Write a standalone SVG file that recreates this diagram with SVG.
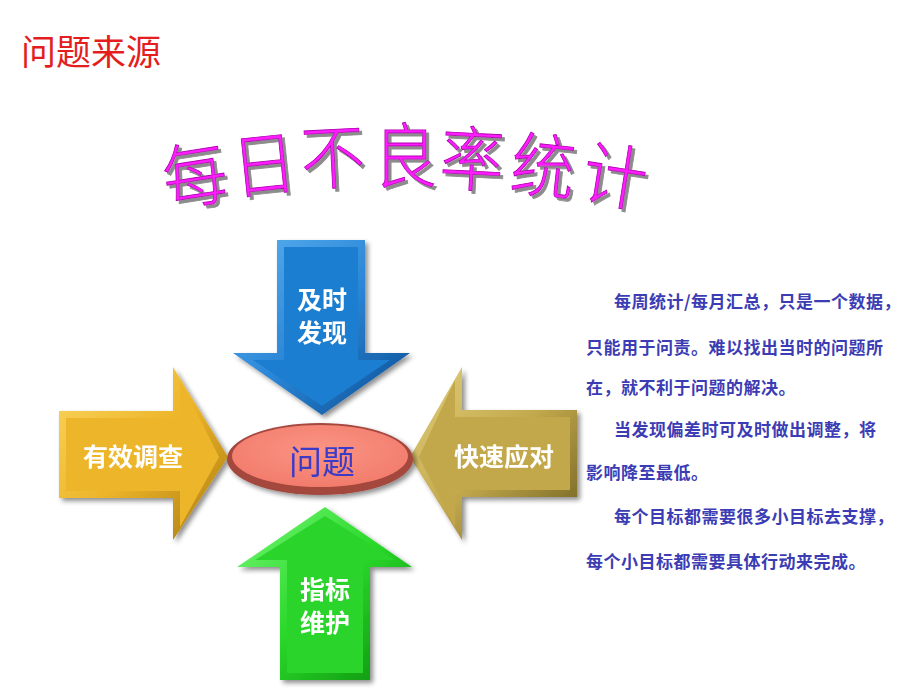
<svg xmlns="http://www.w3.org/2000/svg" width="920" height="690" viewBox="0 0 920 690">
  <defs>
    <filter id="shadow" x="-20%" y="-20%" width="140%" height="140%">
      <feGaussianBlur in="SourceAlpha" stdDeviation="2.5"/>
      <feOffset dx="3" dy="3" result="b"/>
      <feComponentTransfer><feFuncA type="linear" slope="0.45"/></feComponentTransfer>
      <feMerge><feMergeNode/><feMergeNode in="SourceGraphic"/></feMerge>
    </filter>
    <filter id="waShadow" x="-20%" y="-20%" width="140%" height="140%">
      <feOffset in="SourceAlpha" dx="3" dy="3" result="o"/>
      <feFlood flood-color="#8C8C8C"/>
      <feComposite in2="o" operator="in"/>
      <feMerge><feMergeNode/><feMergeNode in="SourceGraphic"/></feMerge>
    </filter>
    <linearGradient id="gBlue" x1="0" y1="0" x2="1" y2="1">
      <stop offset="0" stop-color="#5AB0F0"/><stop offset="0.5" stop-color="#2A86D6"/><stop offset="1" stop-color="#0A4A90"/>
    </linearGradient>
    <linearGradient id="gYellow" x1="0" y1="0" x2="1" y2="1">
      <stop offset="0" stop-color="#FAD660"/><stop offset="0.5" stop-color="#EDB52A"/><stop offset="1" stop-color="#A87A10"/>
    </linearGradient>
    <linearGradient id="gOlive" x1="0" y1="0" x2="1" y2="1">
      <stop offset="0" stop-color="#E0CE7C"/><stop offset="0.5" stop-color="#C4AA4E"/><stop offset="1" stop-color="#6E5E20"/>
    </linearGradient>
    <linearGradient id="gGreen" x1="0" y1="0" x2="1" y2="1">
      <stop offset="0" stop-color="#78F878"/><stop offset="0.5" stop-color="#2AD82A"/><stop offset="1" stop-color="#0C8C0C"/>
    </linearGradient>
    <radialGradient id="gEll" cx="0.5" cy="0.4" r="0.6">
      <stop offset="0" stop-color="#FA9484"/><stop offset="1" stop-color="#F27C6C"/>
    </radialGradient>
  </defs>
  <style>
    .title { font-family: "Liberation Sans", "Noto Sans CJK SC", sans-serif; font-size: 35px; fill: #E41E1E; }
    .wa { font-family: "Noto Sans CJK SC", sans-serif; font-size: 64px; font-weight: 300; text-anchor: middle; fill: #FF1EFF; stroke: #B000B0; stroke-width: 0.8; }
    .lbl { font-family: "Noto Sans CJK SC", sans-serif; font-size: 25px; font-weight: bold; fill: #FFFFFF; text-anchor: middle; }
    .core { font-family: "Noto Sans CJK SC", sans-serif; font-size: 33px; fill: #3A3AC8; text-anchor: middle; }
    .body { font-family: "Noto Sans CJK SC", sans-serif; font-size: 17px; font-weight: bold; fill: #3C3CB4; letter-spacing: 0.5px; }
  </style>

  <text class="title" x="21" y="65">问题来源</text>

  <g id="wordart" filter="url(#waShadow)">
    <text class="wa" transform="translate(195,177) rotate(-9) scale(1,1.1)" x="0" y="22">每</text>
    <text class="wa" transform="translate(264,166) rotate(-6) scale(1,1.1)" x="0" y="22">日</text>
    <text class="wa" transform="translate(333,159) rotate(-3) scale(1,1.1)" x="0" y="22">不</text>
    <text class="wa" transform="translate(405,158) scale(1,1.1)" x="0" y="22">良</text>
    <text class="wa" transform="translate(472,161) rotate(3) scale(1,1.1)" x="0" y="22">率</text>
    <text class="wa" transform="translate(543,168) rotate(6) scale(1,1.1)" x="0" y="22">统</text>
    <text class="wa" transform="translate(615,178) rotate(9) scale(1,1.1)" x="0" y="22">计</text>
  </g>

  <g id="arrow-top" filter="url(#shadow)">
    <polygon points="277,240 365,240 365,353 410,353 322,415 233,353 277,353" fill="url(#gBlue)"/>
    <polygon points="284,247 358,247 358,360 390,360 322,406 253,360 284,360" fill="#1E7ED0"/>
    <text class="lbl"><tspan x="322" y="309">及时</tspan><tspan x="322" y="342">发现</tspan></text>
  </g>

  <g id="arrow-left" filter="url(#shadow)">
    <polygon points="59,411 173,411 173,367 228,457 173,540 173,498 59,498" fill="url(#gYellow)"/>
    <polygon points="66,418 180,418 180,380 219,457 180,527 180,491 66,491" fill="#EDB62C"/>
    <text class="lbl" x="133" y="466">有效调查</text>
  </g>

  <g id="arrow-right" filter="url(#shadow)">
    <polygon points="410,457 462,367 462,410 577,410 577,497 462,497 462,540" fill="url(#gOlive)"/>
    <polygon points="419,457 455,380 455,417 570,417 570,490 455,490 455,527" fill="#C2A84C"/>
    <text class="lbl" x="504" y="466">快速应对</text>
  </g>

  <g id="arrow-bottom" filter="url(#shadow)">
    <polygon points="325,507 412,567 370,567 370,680 280,680 280,567 237,567" fill="url(#gGreen)"/>
    <polygon points="325,516 395,560 363,560 363,673 287,673 287,560 255,560" fill="#2CD42C"/>
    <text class="lbl"><tspan x="325" y="599">指标</tspan><tspan x="325" y="632">维护</tspan></text>
  </g>

  <g id="core" filter="url(#shadow)">
    <ellipse cx="320" cy="459" rx="93" ry="36" fill="#A4463E"/>
    <ellipse cx="320" cy="456" rx="88" ry="31" fill="url(#gEll)"/>
    <text class="core" x="322" y="474">问题</text>
  </g>

  <g id="notes">
    <text class="body" x="614" y="308">每周统计/每月汇总，只是一个数据，</text>
    <text class="body" x="586" y="354">只能用于问责。难以找出当时的问题所</text>
    <text class="body" x="586" y="394">在，就不利于问题的解决。</text>
    <text class="body" x="614" y="436">当发现偏差时可及时做出调整，将</text>
    <text class="body" x="586" y="479">影响降至最低。</text>
    <text class="body" x="614" y="523">每个目标都需要很多小目标去支撑，</text>
    <text class="body" x="586" y="568">每个小目标都需要具体行动来完成。</text>
  </g>
</svg>
